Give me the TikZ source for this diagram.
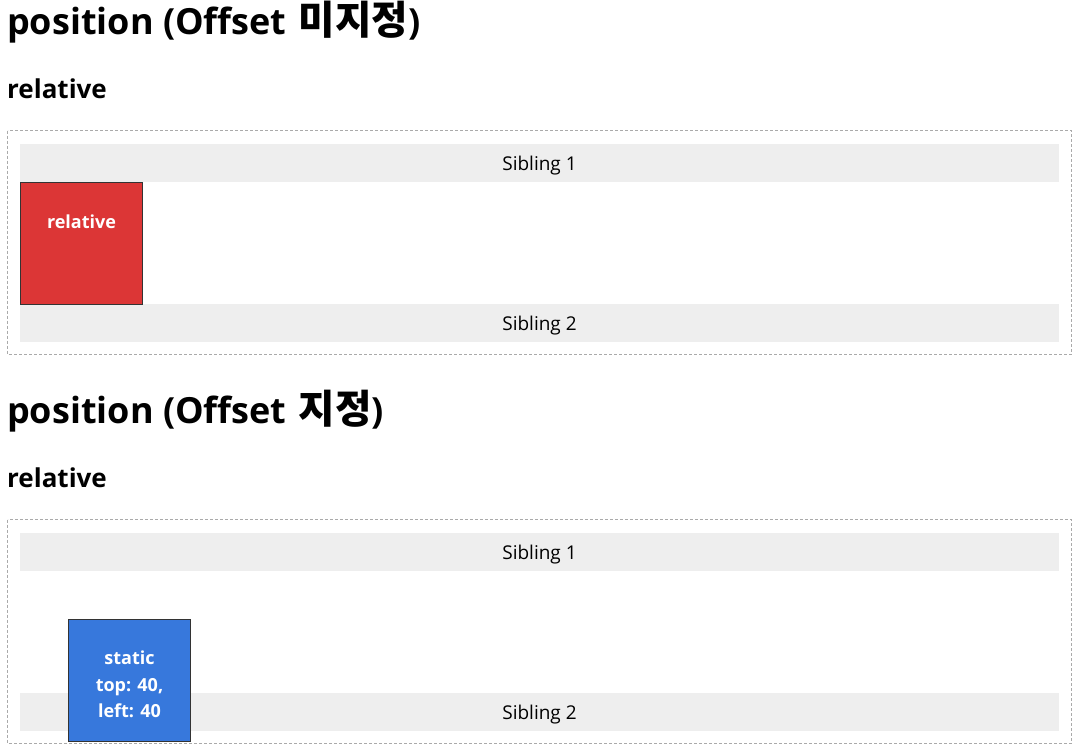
\documentclass[tikz,border=0pt]{standalone}
\usepackage{fontspec}
\setmainfont{Open Sans}
\newfontfamily\krfont[Scale=1.1]{Noto Sans CJK KR}

\definecolor{framegray}{HTML}{AAAAAA}
\definecolor{siblinggray}{HTML}{EEEEEE}
\definecolor{boxborder}{HTML}{333333}
\definecolor{relred}{HTML}{DC3636}
\definecolor{offblue}{HTML}{3778DC}

\begin{document}
\begin{tikzpicture}[x=1pt,y=-1pt,
    heading/.style={anchor=base west,inner sep=0pt,font=\fontsize{36}{42}\selectfont\bfseries},
    subheading/.style={anchor=base west,inner sep=0pt,font=\fontsize{26}{31}\selectfont\bfseries},
    frame/.style={draw=framegray,dash pattern=on 3pt off 2pt,line width=1pt},
    sibling/.style={fill=siblinggray,minimum width=1039pt,minimum height=38pt,inner sep=0pt,text height=14pt,text depth=0pt,font=\fontsize{19}{23}\selectfont},
    posbox/.style={draw=boxborder,line width=1pt,minimum width=122pt,minimum height=122pt,inner sep=0pt,text=white,align=center,font=\fontsize{18}{26.5}\selectfont\bfseries}]

    \fill[white] (0,0) rectangle (1081,755);

    % without offset
    \node[heading] (title1) at (7,34) {position (Offset\hspace{3pt} {\krfont 미지정})};
    \node[subheading] (sub1) at (7,98) {relative};
    \draw[frame] (7.5,130.5) rectangle (1071.5,354);
    \node[sibling] (sib1a) at (539.5,163) {Sibling 1};
    \node[sibling] (sib2a) at (539.5,323) {Sibling 2};
    \node[posbox,fill=relred,anchor=north west,text height=46pt,text depth=76pt] (rel) at (20,182) {relative};

    % with offset
    \node[heading] (title2) at (7,423) {position (Offset\hspace{3pt} {\krfont 지정})};
    \node[subheading] (sub2) at (7,487) {relative};
    \draw[frame] (7.5,519.5) rectangle (1071.5,743);
    \node[sibling] (sib1b) at (539.5,552) {Sibling 1};
    \node[sibling] (sib2b) at (539.5,712) {Sibling 2};
    \node[posbox,fill=offblue,anchor=north west,text height=98pt,text depth=24pt] (stat) at (68,619) {static\\top: 40,\\left: 40};
\end{tikzpicture}
\end{document}
